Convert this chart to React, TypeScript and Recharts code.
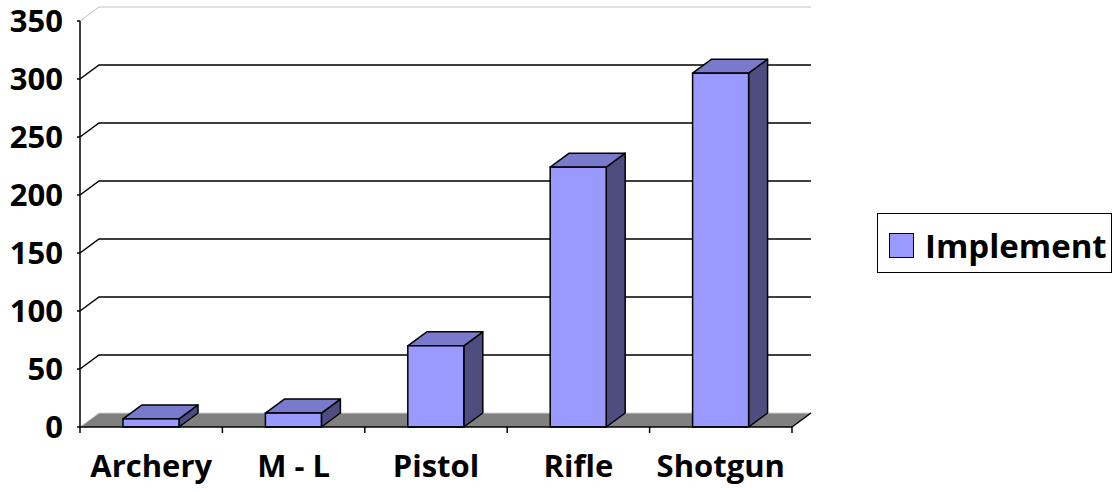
import { BarChart, Bar, XAxis, YAxis, CartesianGrid, Legend } from "recharts";

const categories = ["Archery", "M - L", "Pistol", "Rifle", "Shotgun"];
const implementValues = [7, 12, 70, 224, 305];
const yTicks = [0, 50, 100, 150, 200, 250, 300, 350];

const rows = categories.map((name, i) => ({ name, implement: implementValues[i] }));

// depth offset of the fake 3d box (px)
const DX = 19;
const DY = 14;
const FONT = "'Open Sans', sans-serif";

const FRONT = "#9999FF";
const TOP = "#7A7ACC";
const SIDE = "#4D4D80";

function Bar3D(props: any) {
  const { x, y, width, height } = props;
  if (width == null || height == null) return null;
  const top = `${x},${y} ${x + DX},${y - DY} ${x + width + DX},${y - DY} ${x + width},${y}`;
  const side = `${x + width},${y} ${x + width + DX},${y - DY} ${x + width + DX},${y + height - DY} ${x + width},${y + height}`;
  return (
    <g>
      <polygon points={side} fill={SIDE} stroke="#000" strokeWidth={1.5} strokeLinejoin="round" />
      <polygon points={top} fill={TOP} stroke="#000" strokeWidth={1.5} strokeLinejoin="round" />
      <rect x={x} y={y} width={width} height={height} fill={FRONT} stroke="#000" strokeWidth={1.5} />
    </g>
  );
}

function wallLine(props: any) {
  const { x1, x2, y1, y, height, index } = props;
  if (Math.abs(y1 - (y + height)) < 1) {
    // floor
    return (
      <g key={`h-${index}`}>
        <polygon
          points={`${x1},${y1} ${x2},${y1} ${x2 + DX},${y1 - DY} ${x1 + DX},${y1 - DY}`}
          fill="#808080"
        />
        <path d={`M${x1},${y1} L${x1 + DX},${y1 - DY} L${x2 + DX},${y1 - DY}`} stroke="#D0D0D0" fill="none" strokeWidth={1} />
        <path d={`M${x2},${y1} L${x2 + DX},${y1 - DY}`} stroke="#000" fill="none" strokeWidth={1.5} />
      </g>
    );
  }
  const isTop = Math.abs(y1 - y) < 1;
  return (
    <path
      key={`h-${index}`}
      d={`M${x1},${y1} L${x1 + DX},${y1 - DY} L${x2 + DX},${y1 - DY}`}
      stroke={isTop ? "#C0C0C0" : "#000"}
      strokeWidth={isTop ? 1 : 1.5}
      fill="none"
    />
  );
}

// tick marks at the category boundaries, drawn once from the grid's own points
function categoryTicks(props: any) {
  const { index, verticalPoints, x, width, y2 } = props;
  if (index !== 0) return <g key={`v-${index}`} />;
  const centers = (verticalPoints as number[]).filter((p) => p > x + 0.5 && p < x + width - 0.5);
  const band = width / centers.length;
  const bounds = [x, ...centers.map((c) => c + band / 2)];
  return (
    <g key="v-ticks">
      {bounds.map((b, i) => (
        <line key={i} x1={b} x2={b} y1={y2} y2={y2 + 6} stroke="#000" strokeWidth={1.5} />
      ))}
    </g>
  );
}

function LegendBox(props: any) {
  const item = props.payload?.[0];
  return (
    <div
      style={{
        width: 235,
        height: 60,
        boxSizing: "border-box",
        border: "1.5px solid #000",
        background: "#fff",
        display: "flex",
        alignItems: "center",
        paddingLeft: 11,
        paddingTop: 5,
      }}
    >
      <span
        style={{
          width: 25,
          height: 25,
          boxSizing: "border-box",
          background: FRONT,
          border: "1.5px solid #000",
          marginRight: 11,
          display: "inline-block",
        }}
      />
      <span style={{ fontFamily: FONT, fontWeight: 700, fontSize: 33, color: "#000", lineHeight: 1 }}>
        {item ? item.value : "Implement"}
      </span>
    </div>
  );
}

export default function App() {
  const tickStyle = { fontFamily: FONT, fontWeight: 700, fontSize: 31, fill: "#000" };
  return (
    <div style={{ position: "absolute", left: 0, top: 0, background: "#fff" }}>
      <BarChart
        width={1114}
        height={492}
        data={rows}
        margin={{ top: 21, right: 322, left: 0, bottom: 0 }}
      >
        <CartesianGrid horizontal={wallLine} vertical={categoryTicks} />
        <XAxis
          dataKey="name"
          height={65}
          tickLine={false}
          tickSize={0}
          tickMargin={28}
          axisLine={{ stroke: "#000", strokeWidth: 1.5 }}
          tick={tickStyle}
          interval={0}
        />
        <YAxis
          width={80}
          domain={[0, 350]}
          ticks={yTicks}
          interval={0}
          tickSize={3}
          tickMargin={14}
          axisLine={{ stroke: "#000", strokeWidth: 1.5 }}
          tickLine={{ stroke: "#000", strokeWidth: 1.5 }}
          tick={tickStyle}
        />
        <Legend
          layout="vertical"
          align="center"
          verticalAlign="middle"
          wrapperStyle={{ left: 877, top: 213, width: 235 }}
          content={LegendBox}
        />
        <Bar
          dataKey="implement"
          name="Implement"
          fill={FRONT}
          barSize={56}
          shape={Bar3D}
          isAnimationActive={false}
        />
      </BarChart>
    </div>
  );
}
